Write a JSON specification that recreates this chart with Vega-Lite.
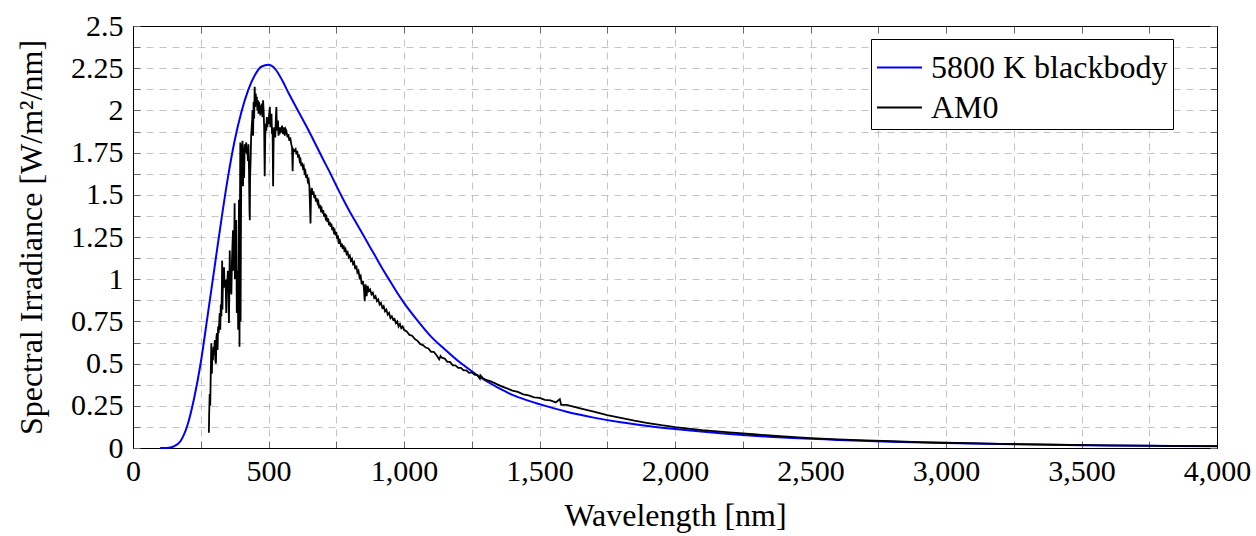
{
 "$schema": "https://vega.github.io/schema/vega-lite/v6.json",
 "width": 1084, "height": 422,
 "autosize": {"type": "none"},
 "padding": {"left": 133, "top": 26, "right": 39, "bottom": 88},
 "background": "white",
 "config": {
  "view": {"stroke": "#000", "strokeWidth": 1},
  "font": "Liberation Serif",
  "style": {
   "guide-title": {"font": "Liberation Serif", "fontWeight": "normal", "fill": "#000"},
   "guide-label": {"font": "Liberation Serif", "fill": "#000"}
  },
  "axis": {"labelFont": "Liberation Serif", "titleFont": "Liberation Serif"},
  "legend": {"labelFont": "Liberation Serif", "titleFont": "Liberation Serif"}
 },
 "datasets": {
  "bb": [
   {"w":100,"v":0},{"w":125,"v":0.0005},{"w":150,"v":0.009},{"w":175,"v":0.04},{"w":200,"v":0.13},{"w":225,"v":0.29},{"w":250,"v":0.505},{"w":275,"v":0.78},{"w":300,"v":1.06},{"w":325,"v":1.34},{"w":350,"v":1.6},{"w":375,"v":1.82},{"w":400,"v":1.99},{"w":425,"v":2.12},{"w":450,"v":2.21},{"w":475,"v":2.26},{"w":500,"v":2.27},{"w":525,"v":2.245},{"w":550,"v":2.18},{"w":575,"v":2.1},{"w":600,"v":2.025},{"w":625,"v":1.95},{"w":650,"v":1.875},{"w":675,"v":1.795},{"w":700,"v":1.715},{"w":725,"v":1.637},{"w":750,"v":1.555},{"w":775,"v":1.475},{"w":800,"v":1.4},{"w":825,"v":1.33},{"w":850,"v":1.26},{"w":875,"v":1.19},{"w":900,"v":1.12},{"w":925,"v":1.05},{"w":950,"v":0.985},{"w":975,"v":0.92},{"w":1000,"v":0.86},{"w":1050,"v":0.755},{"w":1100,"v":0.66},{"w":1150,"v":0.585},{"w":1200,"v":0.515},{"w":1250,"v":0.455},{"w":1300,"v":0.4},{"w":1350,"v":0.355},{"w":1400,"v":0.315},{"w":1450,"v":0.285},{"w":1500,"v":0.26},{"w":1600,"v":0.215},{"w":1700,"v":0.18},{"w":1800,"v":0.152},{"w":1900,"v":0.13},{"w":2000,"v":0.112},{"w":2200,"v":0.083},{"w":2400,"v":0.062},{"w":2600,"v":0.048},{"w":2800,"v":0.037},{"w":3000,"v":0.029},{"w":3250,"v":0.022},{"w":3500,"v":0.017},{"w":3750,"v":0.013},{"w":4000,"v":0.011}
  ],
  "am0": [
   {"w":280,"v":0.09},{"w":281,"v":0.2},{"w":283,"v":0.32},{"w":285,"v":0.25},{"w":287,"v":0.45},{"w":289,"v":0.62},{"w":291,"v":0.44},{"w":293,"v":0.58},{"w":295,"v":0.52},{"w":297,"v":0.6},{"w":299,"v":0.55},{"w":302,"v":0.64},{"w":304,"v":0.52},{"w":306,"v":0.5},{"w":308,"v":0.66},{"w":310,"v":0.68},{"w":312,"v":0.58},{"w":314,"v":0.72},{"w":316,"v":0.68},{"w":318,"v":0.74},{"w":320,"v":0.8},{"w":322,"v":0.7},{"w":324,"v":0.85},{"w":326,"v":0.78},{"w":328,"v":0.95},{"w":329,"v":1.11},{"w":330,"v":0.82},{"w":332,"v":1.0},{"w":334,"v":0.96},{"w":336,"v":1.07},{"w":338,"v":0.95},{"w":340,"v":0.99},{"w":342,"v":0.99},{"w":344,"v":0.8},{"w":346,"v":1.0},{"w":348,"v":0.97},{"w":350,"v":1.05},{"w":352,"v":0.93},{"w":354,"v":0.74},{"w":356,"v":1.0},{"w":357,"v":1.17},{"w":359,"v":0.92},{"w":361,"v":1.05},{"w":363,"v":0.91},{"w":365,"v":1.1},{"w":367,"v":1.2},{"w":369,"v":1.29},{"w":371,"v":1.05},{"w":373,"v":1.15},{"w":375,"v":1.45},{"w":376,"v":1.0},{"w":378,"v":1.2},{"w":380,"v":1.1},{"w":381,"v":1.35},{"w":383,"v":0.8},{"w":385,"v":1.05},{"w":387,"v":1.0},{"w":388,"v":0.7},{"w":390,"v":1.1},{"w":391,"v":1.47},{"w":392,"v":1.1},{"w":393,"v":0.6},{"w":394,"v":1.2},{"w":395,"v":1.5},{"w":396,"v":1.81},{"w":397,"v":0.75},{"w":398,"v":1.2},{"w":400,"v":1.8},{"w":402,"v":1.7},{"w":404,"v":1.82},{"w":406,"v":1.55},{"w":408,"v":1.78},{"w":410,"v":1.6},{"w":412,"v":1.8},{"w":414,"v":1.75},{"w":416,"v":1.79},{"w":418,"v":1.81},{"w":420,"v":1.74},{"w":422,"v":1.78},{"w":424,"v":1.7},{"w":426,"v":1.8},{"w":428,"v":1.65},{"w":430,"v":1.4},{"w":431,"v":1.35},{"w":432,"v":1.6},{"w":434,"v":1.7},{"w":436,"v":1.85},{"w":438,"v":1.9},{"w":440,"v":1.95},{"w":441,"v":2.0},{"w":443,"v":1.85},{"w":445,"v":2.05},{"w":447,"v":1.95},{"w":449,"v":2.14},{"w":451,"v":2.02},{"w":453,"v":2.1},{"w":455,"v":2.03},{"w":457,"v":2.08},{"w":459,"v":2.0},{"w":461,"v":2.06},{"w":463,"v":1.98},{"w":465,"v":2.05},{"w":468,"v":2.02},{"w":470,"v":1.97},{"w":472,"v":2.03},{"w":474,"v":1.99},{"w":476,"v":2.04},{"w":478,"v":1.96},{"w":480,"v":2.06},{"w":482,"v":2.0},{"w":484,"v":1.9},{"w":486,"v":1.61},{"w":488,"v":1.85},{"w":490,"v":1.92},{"w":492,"v":1.88},{"w":494,"v":1.96},{"w":496,"v":1.9},{"w":498,"v":1.95},{"w":500,"v":1.92},{"w":502,"v":1.97},{"w":505,"v":2.02},{"w":507,"v":1.9},{"w":509,"v":1.94},{"w":511,"v":1.98},{"w":513,"v":1.86},{"w":515,"v":1.9},{"w":517,"v":1.55},{"w":519,"v":1.84},{"w":521,"v":1.88},{"w":523,"v":1.9},{"w":525,"v":1.84},{"w":527,"v":1.95},{"w":529,"v":2.02},{"w":531,"v":1.88},{"w":533,"v":1.92},{"w":535,"v":1.94},{"w":537,"v":1.85},{"w":539,"v":1.9},{"w":541,"v":1.86},{"w":544,"v":1.9},{"w":547,"v":1.87},{"w":550,"v":1.91},{"w":553,"v":1.86},{"w":556,"v":1.9},{"w":560,"v":1.85},{"w":563,"v":1.89},{"w":566,"v":1.88},{"w":570,"v":1.84},{"w":573,"v":1.86},{"w":577,"v":1.82},{"w":580,"v":1.84},{"w":584,"v":1.8},{"w":587,"v":1.78},{"w":589,"v":1.64},{"w":591,"v":1.77},{"w":595,"v":1.76},
   {"w":600,"v":1.77},{"w":603,"v":1.74},{"w":606,"v":1.76},{"w":609,"v":1.72},{"w":612,"v":1.74},{"w":615,"v":1.7},{"w":618,"v":1.71},{"w":621,"v":1.67},{"w":624,"v":1.69},{"w":627,"v":1.66},{"w":630,"v":1.67},{"w":633,"v":1.63},{"w":636,"v":1.64},{"w":639,"v":1.6},{"w":642,"v":1.62},{"w":645,"v":1.58},{"w":648,"v":1.59},{"w":651,"v":1.55},{"w":655,"v":1.33},{"w":657,"v":1.52},{"w":660,"v":1.54},{"w":663,"v":1.5},{"w":666,"v":1.52},{"w":669,"v":1.48},{"w":672,"v":1.5},{"w":675,"v":1.46},{"w":678,"v":1.48},{"w":681,"v":1.45},{"w":684,"v":1.46},{"w":687,"v":1.42},{"w":690,"v":1.44},{"w":693,"v":1.41},{"w":696,"v":1.42},{"w":699,"v":1.39},{"w":702,"v":1.41},{"w":705,"v":1.37},{"w":708,"v":1.39},{"w":711,"v":1.36},{"w":714,"v":1.37},{"w":717,"v":1.34},{"w":720,"v":1.36},{"w":723,"v":1.32},{"w":726,"v":1.34},{"w":729,"v":1.31},{"w":732,"v":1.33},{"w":735,"v":1.29},{"w":738,"v":1.31},{"w":741,"v":1.28},{"w":744,"v":1.29},{"w":747,"v":1.26},{"w":750,"v":1.28},{"w":753,"v":1.24},{"w":756,"v":1.26},{"w":759,"v":1.21},{"w":762,"v":1.24},{"w":765,"v":1.22},{"w":768,"v":1.19},{"w":771,"v":1.21},{"w":774,"v":1.18},{"w":777,"v":1.2},{"w":780,"v":1.17},{"w":784,"v":1.18},{"w":788,"v":1.15},{"w":792,"v":1.16},{"w":796,"v":1.13},{"w":800,"v":1.14},{"w":804,"v":1.11},{"w":808,"v":1.12},{"w":812,"v":1.09},{"w":816,"v":1.1},{"w":820,"v":1.06},{"w":824,"v":1.08},{"w":828,"v":1.04},{"w":832,"v":1.05},{"w":836,"v":1.01},{"w":840,"v":1.02},{"w":844,"v":0.97},{"w":848,"v":0.99},{"w":852,"v":0.95},{"w":855,"v":0.87},{"w":858,"v":0.97},{"w":862,"v":0.9},{"w":866,"v":0.96},{"w":870,"v":0.93},{"w":875,"v":0.94},{"w":880,"v":0.91},{"w":885,"v":0.92},{"w":890,"v":0.89},{"w":895,"v":0.9},{"w":900,"v":0.87},{"w":905,"v":0.88},{"w":910,"v":0.85},{"w":915,"v":0.86},{"w":920,"v":0.83},{"w":925,"v":0.84},{"w":930,"v":0.81},{"w":935,"v":0.82},{"w":940,"v":0.79},{"w":945,"v":0.8},{"w":950,"v":0.77},{"w":955,"v":0.78},{"w":960,"v":0.76},{"w":965,"v":0.765},{"w":970,"v":0.74},{"w":975,"v":0.75},{"w":980,"v":0.72},{"w":985,"v":0.735},{"w":990,"v":0.71},{"w":995,"v":0.72},{"w":1000,"v":0.7},{"w":1010,"v":0.69},{"w":1020,"v":0.67},{"w":1030,"v":0.665},{"w":1040,"v":0.645},{"w":1050,"v":0.635},{"w":1060,"v":0.615},{"w":1070,"v":0.61},{"w":1080,"v":0.595},{"w":1090,"v":0.59},{"w":1100,"v":0.57},{"w":1110,"v":0.57},{"w":1120,"v":0.55},{"w":1130,"v":0.525},{"w":1135,"v":0.545},{"w":1140,"v":0.535},{"w":1150,"v":0.53},{"w":1160,"v":0.51},{"w":1170,"v":0.51},{"w":1180,"v":0.49},{"w":1190,"v":0.49},{"w":1200,"v":0.475},{"w":1210,"v":0.475},{"w":1220,"v":0.46},{"w":1230,"v":0.46},{"w":1240,"v":0.445},{"w":1250,"v":0.448},{"w":1260,"v":0.435},{"w":1270,"v":0.432},{"w":1280,"v":0.41},{"w":1282,"v":0.43},{"w":1290,"v":0.415},{"w":1300,"v":0.405},
   {"w":1320,"v":0.395},{"w":1340,"v":0.38},{"w":1360,"v":0.365},{"w":1380,"v":0.353},{"w":1400,"v":0.34},{"w":1420,"v":0.332},{"w":1440,"v":0.318},{"w":1460,"v":0.312},{"w":1480,"v":0.3},{"w":1500,"v":0.297},{"w":1520,"v":0.285},{"w":1540,"v":0.282},{"w":1560,"v":0.27},{"w":1575,"v":0.29},{"w":1580,"v":0.255},{"w":1600,"v":0.255},{"w":1650,"v":0.235},{"w":1700,"v":0.215},{"w":1750,"v":0.195},{"w":1800,"v":0.178},{"w":1850,"v":0.162},{"w":1900,"v":0.148},{"w":1950,"v":0.135},{"w":2000,"v":0.124},{"w":2100,"v":0.106},{"w":2200,"v":0.092},{"w":2300,"v":0.08},{"w":2400,"v":0.068},{"w":2500,"v":0.059},{"w":2600,"v":0.051},{"w":2700,"v":0.045},{"w":2800,"v":0.04},{"w":2900,"v":0.035},{"w":3000,"v":0.031},{"w":3200,"v":0.025},{"w":3400,"v":0.02},{"w":3600,"v":0.016},{"w":3800,"v":0.013},{"w":4000,"v":0.011}
  ]
 },
 "layer": [
  {
   "data": {"name": "bb"},
   "mark": {"type": "line", "interpolate": "monotone", "strokeWidth": 2},
   "encoding": {
    "x": {"field": "w", "type": "quantitative",
     "scale": {"domain": [0, 4000], "nice": false, "zero": false},
     "axis": {"values": [0,250,500,750,1000,1250,1500,1750,2000,2250,2500,2750,3000,3250,3500,3750,4000],
      "labelExpr": "datum.value % 500 == 0 ? format(datum.value, ',') : ''",
      "grid": true, "gridDash": [7, 6], "gridColor": "#c4c4c4", "gridWidth": 1,
      "tickSize": -7, "tickColor": "#666", "tickWidth": 1,
      "labelPadding": 15, "labelFont": "Liberation Serif", "labelFontSize": 30, "labelColor": "#000",
      "labelFlush": false, "labelOverlap": false, "domainColor": "#000",
      "title": "Wavelength [nm]", "titleFont": "Liberation Serif", "titleFontSize": 32,
      "titleFontWeight": "normal", "titleColor": "#000", "titlePadding": 14}},
    "y": {"field": "v", "type": "quantitative",
     "scale": {"domain": [0, 2.5], "nice": false, "zero": false},
     "axis": {"values": [0,0.125,0.25,0.375,0.5,0.625,0.75,0.875,1,1.125,1.25,1.375,1.5,1.625,1.75,1.875,2,2.125,2.25,2.375,2.5],
      "labelExpr": "round(datum.value*8) % 2 == 0 ? format(datum.value, '~g') : ''",
      "grid": true, "gridDash": [7, 6], "gridColor": "#c4c4c4", "gridWidth": 1,
      "tickSize": -7, "tickColor": "#666", "tickWidth": 1,
      "labelPadding": 17, "labelFont": "Liberation Serif", "labelFontSize": 30, "labelColor": "#000",
      "labelFlush": false, "labelOverlap": false, "domainColor": "#000",
      "title": "Spectral Irradiance [W/m²/nm]", "titleFont": "Liberation Serif", "titleFontSize": 32,
      "titleFontWeight": "normal", "titleColor": "#000", "titlePadding": 22}},
    "color": {"datum": "5800 K blackbody", "type": "nominal",
     "scale": {"domain": ["5800 K blackbody", "AM0"], "range": ["#0000ff", "#000000"]},
     "legend": {"orient": "none", "legendX": 738, "legendY": 13, "title": null,
      "symbolType": "stroke", "symbolSize": 2025, "symbolStrokeWidth": 2,
      "labelFont": "Liberation Serif", "labelFontSize": 32, "labelColor": "#000", "labelLimit": 0,
      "labelOffset": 8, "strokeColor": "#000", "fillColor": "#fff", "padding": 5, "rowPadding": 0, "cornerRadius": 0}}
   }
  },
  {
   "data": {"name": "am0"},
   "mark": {"type": "line", "strokeWidth": 1.8},
   "encoding": {
    "x": {"field": "w", "type": "quantitative",
     "axis": {"orient": "top", "values": [0,250,500,750,1000,1250,1500,1750,2000,2250,2500,2750,3000,3250,3500,3750,4000],
      "labels": false, "grid": false, "tickSize": -7, "tickColor": "#666", "domainColor": "#000", "title": null}},
    "y": {"field": "v", "type": "quantitative",
     "axis": {"orient": "right", "values": [0,0.125,0.25,0.375,0.5,0.625,0.75,0.875,1,1.125,1.25,1.375,1.5,1.625,1.75,1.875,2,2.125,2.25,2.375,2.5],
      "labels": false, "grid": false, "tickSize": -7, "tickColor": "#666", "domainColor": "#000", "title": null}},
    "color": {"datum": "AM0", "type": "nominal"}
   }
  }
 ],
 "resolve": {"axis": {"x": "independent", "y": "independent"}}
}
